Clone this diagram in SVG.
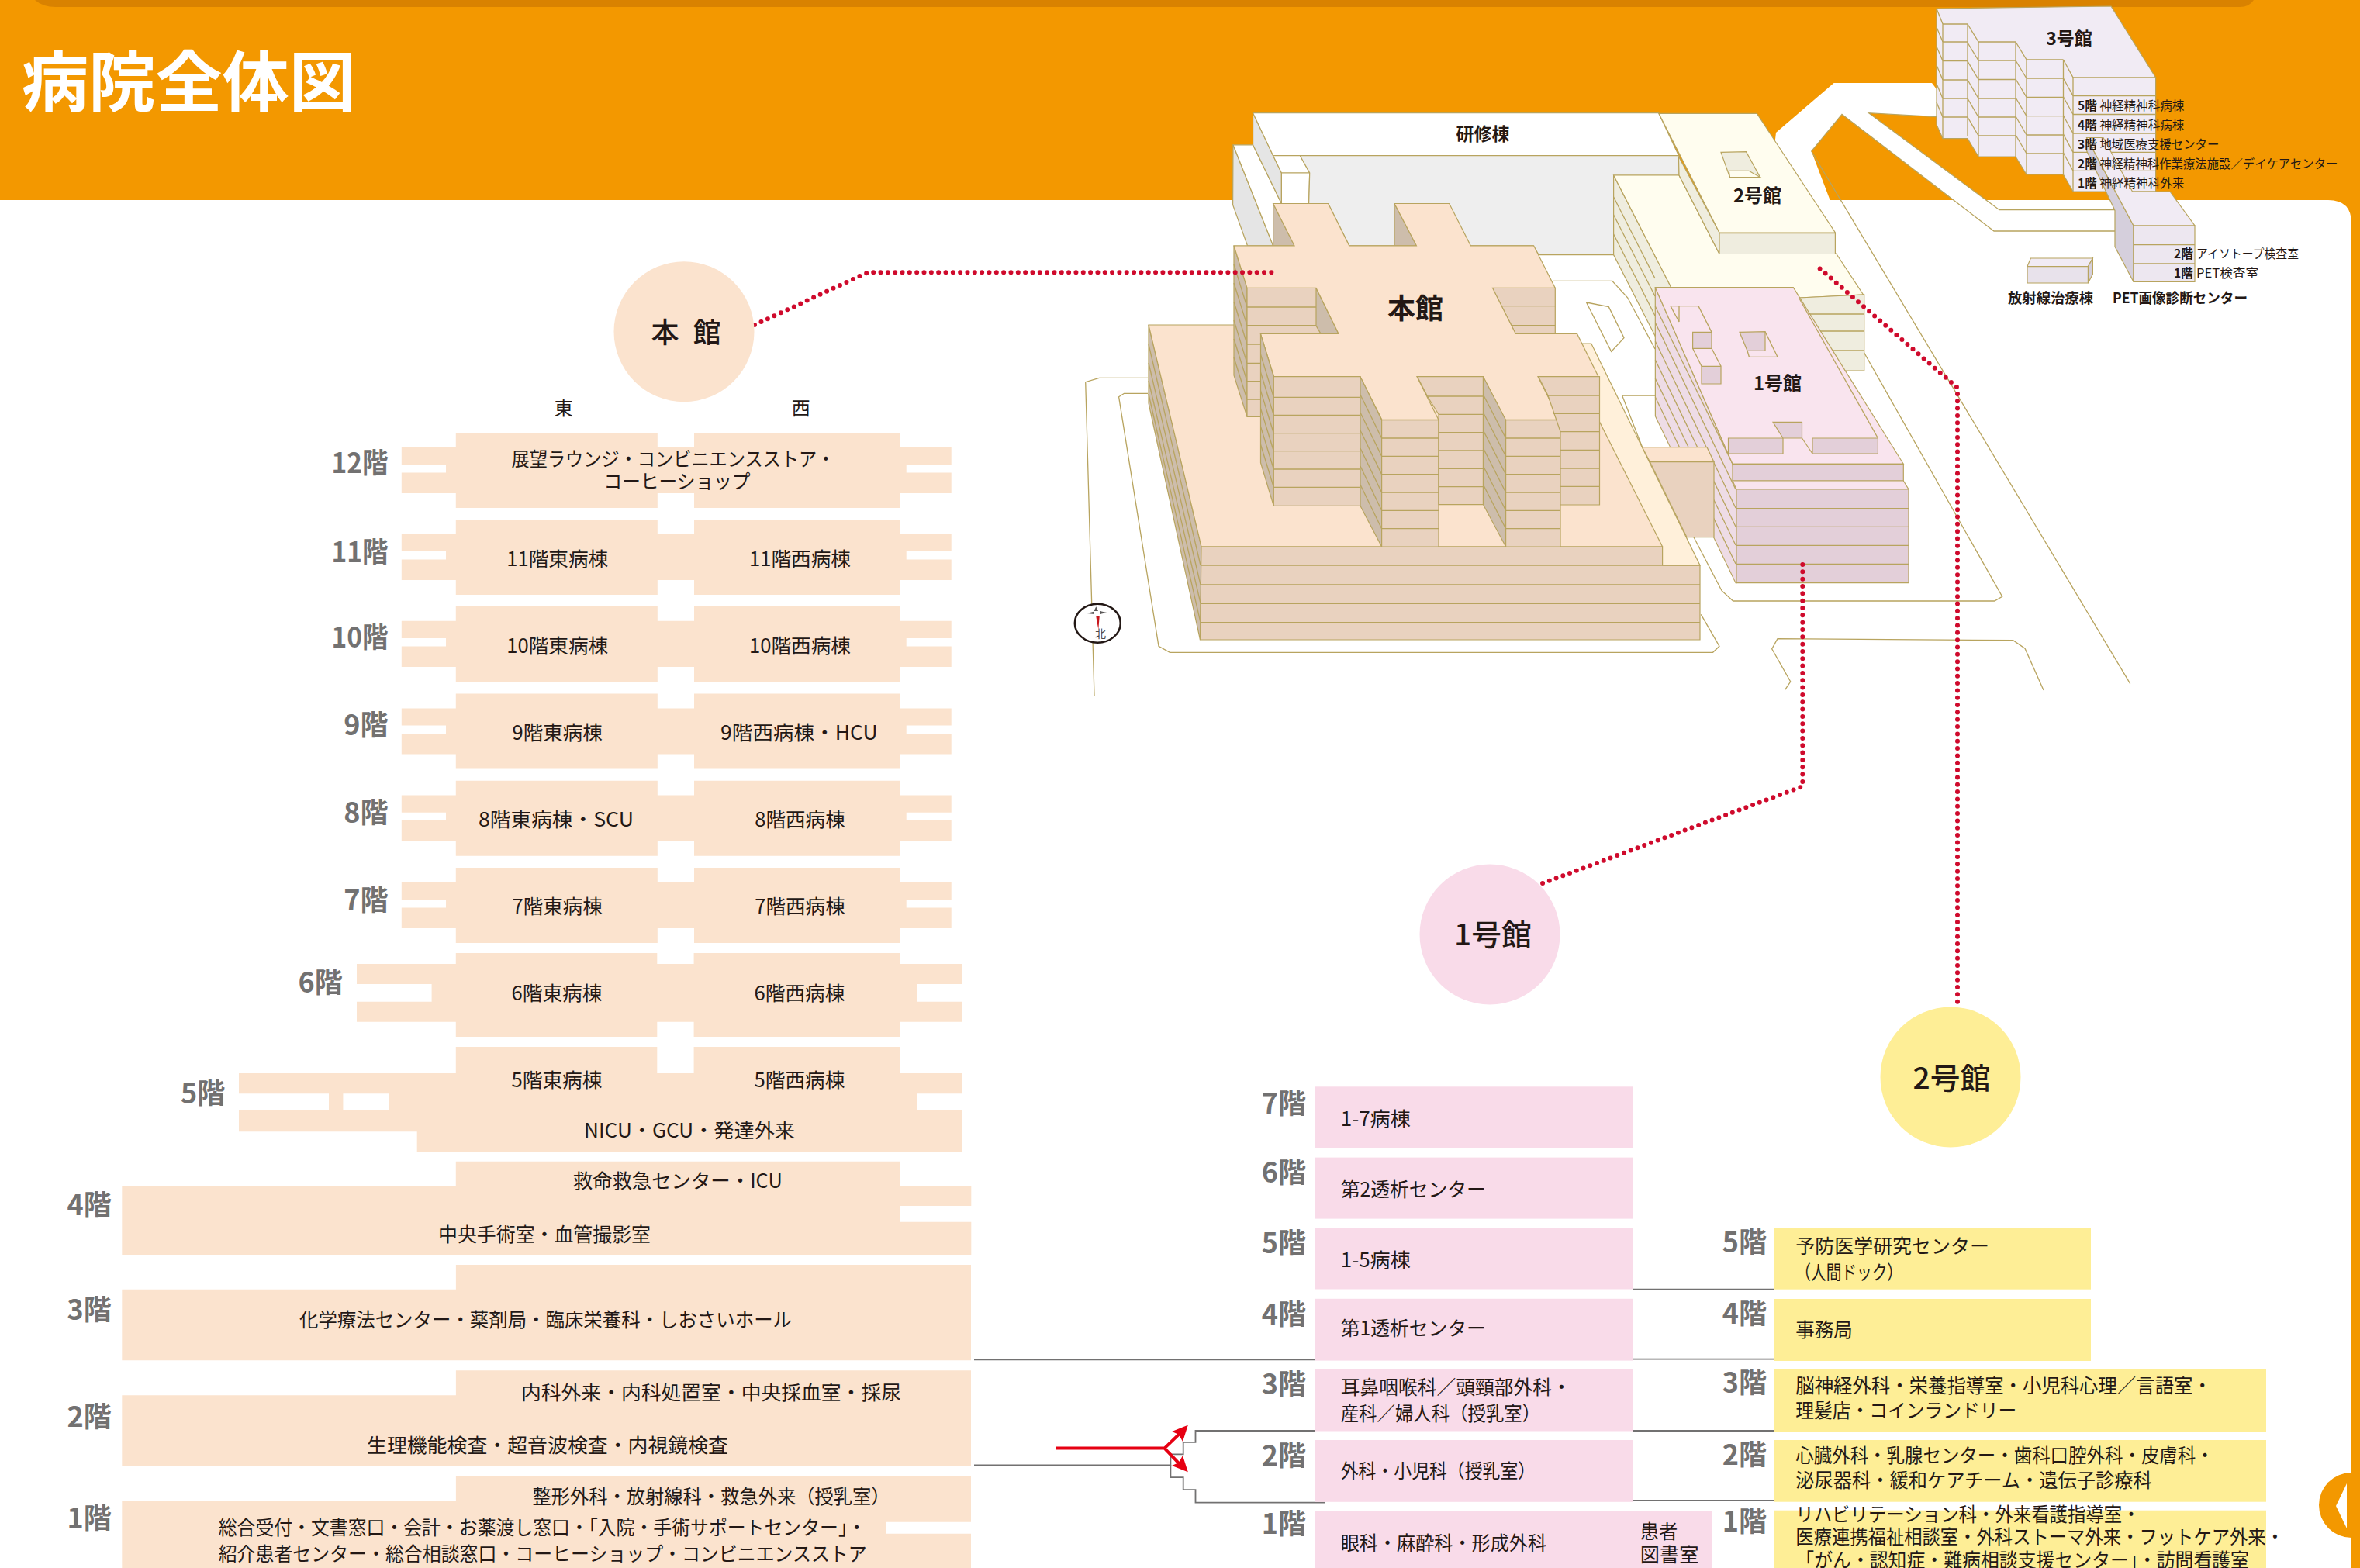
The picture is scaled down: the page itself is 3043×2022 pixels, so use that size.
<svg xmlns="http://www.w3.org/2000/svg" width="3043" height="2022" viewBox="0 0 3043 2022">
<style>
text{font-family:"Noto Sans CJK JP","Noto Sans",sans-serif;fill:#231815}
.t{font-size:25px}
.f{font-size:36px;font-weight:700;fill:#727171;text-anchor:end}
.m{text-anchor:middle}
.b{font-weight:700}
.k{font-size:15.5px}
.kb{font-size:15.5px;font-weight:700}
.c{font-size:38px;text-anchor:middle;font-weight:500}
.ln{fill:none;stroke:#B8A45F;stroke-width:1.3}
.dk{fill:#CDBDAB;stroke:#B8A45F;stroke-width:1.2}
.fc{fill:#E9D2BF;stroke:#B8A45F;stroke-width:1.2}
.tp{fill:#FBE3CE;stroke:#B8A45F;stroke-width:1.2}
.yt{fill:#FFFDEF;stroke:#B8A45F;stroke-width:1.2}
.yf{fill:#EFEDDF;stroke:#B8A45F;stroke-width:1.2}
.pt{fill:#F9E4EE;stroke:#B8A45F;stroke-width:1.2}
.pf{fill:#E3CFD9;stroke:#B8A45F;stroke-width:1.2}
.ps{fill:#EEDCE6;stroke:#B8A45F;stroke-width:1.2}
.vt{fill:#F1EBF4;stroke:#B8A45F;stroke-width:1.2}
.vd{fill:#D5CFDC;stroke:#B8A45F;stroke-width:1.2}
.w{fill:#fff;stroke:#B8A45F;stroke-width:1.2}
.gy{fill:#EEEEEE;stroke:#B8A45F;stroke-width:1.2}
.sg{fill:#E5E5E5;stroke:#B8A45F;stroke-width:1.2}
.pa{fill:#FBE3CE}
.pk{fill:#F9DBE9}
.ye{fill:#FEEE96}
.con{fill:none;stroke:#727171;stroke-width:1.8}
.dot{fill:none;stroke:#CF0A2C;stroke-width:6;stroke-linecap:round;stroke-dasharray:0 9.33}
</style>
<defs>
<path id="bk" d="M587.8,0H847.8V18.8H895V0H1161V18.8H1226.7V41H1168.7V51.4H1226.7V78H1161V97H895V78H847.8V97H587.8V78H517.8V51.4H575V41H517.8V18.8H587.8Z"/>
</defs>

<g id="background">
<rect width="3043" height="2022" fill="#F39800"/>
<path d="M45,0Q55,9 72,9H2888Q2900,9 2906,0Z" fill="#D98200"/>
<path d="M0,258H3002Q3032,258 3032,288V2022H0Z" fill="#fff"/>
<text x="28" y="137" font-size="85" font-weight="700" style="fill:#fff" textLength="431" lengthAdjust="spacingAndGlyphs">病院全体図</text>
<circle cx="3032" cy="1941" r="42" fill="#F39800"/>
<path d="M3012,1942L3026,1913V1971Z" fill="#fff"/>
</g>

<g id="site">
<path d="M2290,171L2364.6,107H2491L2497,115V150.7L2409.7,145.7L2578,270.7H2727V298H2571L2375,147.5L2335.7,195L2360,259H2280Z" fill="#fff"/>
<path class="ln" d="M2497,150.7L2409.7,145.7L2578,270.7H2727M2727,298H2571L2375,147.5L2335.7,195L2746.7,881.7"/>
<path class="ln" d="M2403.7,455L2581.7,769.3L2571.7,775H2234.7L2220,761.7L2184,692.7"/>
<path class="ln" d="M2301.7,889.3L2308.7,879L2284.7,836.7L2292,823.7L2595.7,825.7L2611,836.3L2635,890"/>
<path class="ln" d="M1480,487.3H1417.3L1399.7,492.7L1411,897"/>
<path class="ln" d="M1480,507.3H1449.5L1442.6,511.7L1494,833.3L1508.4,841.3H2208.6L2217,833.3L2193.3,792.3"/>
<path class="ln" d="M2134,510H2091.6L2117.6,576.7"/>
<path class="ln" d="M2002,362.4H2078.8L2098.6,383.8L2134,450"/>
<path class="ln" d="M2045.5,390L2074.3,395.7L2094,435.7L2077.6,453.4Z"/>
</g>

<g id="kenshu">
<path class="sg" d="M1590,186.8L1589.6,264.2L1608.5,316.8H1641.6Z"/>
<path class="w" d="M1590,186.8H1615.6L1652.4,262.5H1641.6V316.8Z"/>
<path class="sg" d="M1615.6,145.7V186.8L1652.4,262.5V223L1641.6,200.7Z"/>
<path class="w" d="M1615.6,145.7H2138.6L2164.6,200.7H1641.6Z"/>
<path class="w" d="M1641.6,200.7H1676.3L1688.7,223H1652.4Z"/>
<path class="w" d="M1652.4,223H1688.7L1687.6,262.5H1652.4Z"/>
<path class="gy" d="M1676.3,200.7H2165V226H2080.6V328.6H1984L1977,316.8H1739.7L1712.6,262.5H1687.6L1688.7,223Z"/>
<text class="b m" x="1912" y="181" font-size="23">研修棟</text>
</g>

<g id="bldg2">
<path class="yf" d="M2080.6,226L2155,371L2134,433L2080.6,328.6Z"/>
<path class="ln" d="M2080.6,254L2134,359M2080.6,277L2134,382M2080.6,302L2134,407"/>
<path class="yt" d="M2080.6,226H2165L2217,327.4L2367.6,327L2402.5,380L2319.5,384L2200,400L2155,371Z"/>
<path class="yf" d="M2319.5,384L2403.7,380V478H2372Z"/>
<path class="ln" d="M2330,405H2403.7M2342,427H2403.7M2355,452H2403.7"/>
<path class="yf" d="M2164.4,201.7L2217,300V327.4L2165,226Z"/>
<path class="yt" d="M2139,146.4H2265.4L2366.4,300H2217Z"/>
<path class="yf" d="M2217,300.6H2366.4V327.5H2217Z"/>
<path class="yf" d="M2219,196.4L2251.5,195.7L2269.6,228.6H2230.5Z"/>
<path class="yt" d="M2229.3,220.3H2255L2269.6,228.6H2230.5Z"/>
<text class="b m" x="2266" y="261" font-size="24">2号館</text>
</g>

<g id="honkan">
<path fill="#FFF0DA" stroke="#B8A45F" stroke-width="1.2" d="M2030,443H2051.8L2192,729H2143.6L1900,600Z"/>
<path class="dk" d="M1481,419L1549,705V729L1547.5,825L1481,520Z"/>
<path class="ln" d="M1481,444L1548,729M1481,468L1548,754M1481,491L1548,778M1481,508L1548,803"/>
<path class="tp" d="M1481,419H1620L2040,480L2062,543L2143.6,705H1549Z"/>
<path class="fc" d="M1549,705H2143.6V729H2192V825H1547.5Z"/>
<path class="ln" d="M1548,729H2192M1548,754H2192M1548,778.3H2192M1548,802.7H2192"/>

<path class="dk" d="M1591,316.8L1608,371.4V537.4L1591,484Z"/>
<path class="ln" d="M1591,341L1608,396M1591,365L1608,419.6M1591,389L1608,444M1591,413L1608,468.4M1591,437L1608,491.7M1591,461L1608,515"/>
<path class="fc" d="M1608,371.4H1697L1726,430.4H1640V537.4H1608Z"/>
<path class="ln" d="M1608,396H1709M1608,419.6H1721M1608,444H1640M1608,468.4H1640M1608,491.7H1640M1608,515H1640"/>
<path class="dk" d="M1697,371.4L1726,430.4H1703L1697,420Z"/>
<path class="dk" d="M1641.6,262.5L1669,316.8H1641.6Z"/>
<path class="dk" d="M1798,262.5L1826.4,316.8H1798Z"/>
<path class="fc" d="M1924.5,371.4H2005.3V430.4H1954.3Z"/>
<path class="ln" d="M1936.5,394.6H2005.3M1949,419.6H2005.3"/>
<path class="tp" d="M1591,316.8H1669L1641.6,262.5H1712.6L1739.7,316.8H1826.4L1798,262.5H1868.7L1896.3,316.8H1977.6L2005.3,371.4H1924.5L1954.3,430.4H2033.5L2061,485.7H1983L2011,541.4H1941L1912,485.7H1827L1855,541.4H1782L1753.8,485.7H1642.7L1625.3,430.4H1726L1697,371.4H1608Z"/>

<path class="dk" d="M1625.5,430.7L1642.3,485.7V652.3L1625.5,596.7Z"/>
<path class="ln" d="M1625.5,457L1642.3,512.3M1625.5,480L1642.3,535.3M1625.5,503.7L1642.3,558.7M1625.5,526.7L1642.3,581.7M1625.5,550L1642.3,605M1625.5,573.3L1642.3,628.3"/>
<path class="fc" d="M1642.3,485.7H1754V652.3H1642.3Z"/>
<path class="ln" d="M1642.3,512.3H1754M1642.3,535.3H1754M1642.3,558.7H1754M1642.3,581.7H1754M1642.3,605H1754M1642.3,628.3H1754"/>
<path class="dk" d="M1754,485.7L1781.6,541.7V705L1754,652.3Z"/>
<path class="ln" d="M1754,509L1781.6,565M1754,532L1781.6,588.3M1754,555L1781.6,611.7M1754,578L1781.6,635M1754,601L1781.6,658.3M1754,625L1781.6,681.7"/>
<path class="fc" d="M1781.6,541.7H1855V705H1781.6Z"/>
<path class="ln" d="M1781.6,565H1855M1781.6,588.3H1855M1781.6,611.7H1855M1781.6,635H1855M1781.6,658.3H1855M1781.6,681.7H1855"/>
<path class="fc" d="M1827.5,485.7H1912.5V650.7H1855V534.3L1840.5,511Z"/>
<path class="ln" d="M1840.5,511H1912.5M1855,534.3H1912.5M1855,557.7H1912.5M1855,581H1912.5M1855,604.3H1912.5M1855,627.7H1912.5"/>
<path class="dk" d="M1912.5,485.7L1941.6,541.7V705L1912.5,650.7Z"/>
<path class="ln" d="M1912.5,509L1941.6,565M1912.5,532L1941.6,588.3M1912.5,555L1941.6,611.7M1912.5,578L1941.6,635M1912.5,601L1941.6,658.3M1912.5,625L1941.6,681.7"/>
<path class="fc" d="M1941.6,541.7H2012V705H1941.6Z"/>
<path class="ln" d="M1941.6,565H2012M1941.6,588.3H2012M1941.6,611.7H2012M1941.6,635H2012M1941.6,658.3H2012M1941.6,681.7H2012"/>
<path class="fc" d="M1983.7,485.7H2062.5V651H2012V556.7L1996,510Z"/>
<path class="ln" d="M1996,510H2062.5M2003,533.3H2062.5M2012,556.7H2062.5M2012,580.3H2062.5M2012,604H2062.5M2012,627.3H2062.5"/>
<text class="b m" x="1825" y="411" font-size="36">本館</text>
</g>

<g id="bldg1">
<path class="ps" d="M2134.3,370.7L2234,598.3L2239,631V751.7H2238L2134.4,536.7Z"/>
<path class="ln" d="M2134.3,395L2234,598M2134.3,416L2238,631M2134.3,440L2238,655M2134.3,464L2238,679M2134.3,488L2238,703M2134.3,512L2238,727"/>
<path class="tp" d="M2117.6,576.7H2201L2210,595.7H2127.5Z"/>
<path class="fc" d="M2127.5,595.7H2210V692.7H2175Z"/>
<path class="pt" d="M2134.3,370.7H2312.3L2454.3,598.3H2234Z"/>
<path class="ln" d="M2319.5,384L2421.4,565"/>
<path class="pf" d="M2234,598.3H2454.3V620H2234Z"/>
<path class="pt" d="M2234,620H2454.3L2461,631H2239Z"/>
<path class="pf" d="M2239,631H2461V751.7H2239Z"/>
<path class="ln" d="M2239,655.7H2461M2239,679.3H2461M2239,703.3H2461M2239,727.3H2461"/>
<path class="pf" d="M2228.5,565H2299V585H2228.5Z"/>
<path class="pf" d="M2286,544.3H2323.5V565H2299Z"/>
<path class="ln" d="M2323.5,565L2337,585"/>
<path class="pf" d="M2337,565H2421.4V585H2337Z"/>
<path class="pf" d="M2243,428.3L2276,427.7V452.3H2253Z"/>
<path class="ln" d="M2276,427.7L2292,460.3H2255.4L2253,452.3"/>
<path class="pf" d="M2182.6,428.4H2207V449.3H2182.6Z"/>
<path class="pf" d="M2194,472.3H2219V495H2194Z"/>
<path class="ln" d="M2154,394.6H2190L2207,428.4M2165,394.6V415L2154,394.6M2182.6,449.3L2194,472.3M2207,449.3L2219,472.3"/>
<text class="b m" x="2292" y="503" font-size="24">1号館</text>
</g>

<g id="bldg3">
<path class="vt" d="M2497,11L2722,8L2779.6,100V247H2673L2660.5,225H2613L2599,202H2551L2537,178.6H2505L2497,160.7Z"/>
<path class="ln" d="M2497,11L2505,31V178.6M2537,31L2551,54V202M2599,54L2613,77V225M2660.5,77L2673,100V247M2537,31V175M2599,54V202M2660.5,77V225"/>
<path class="ln" d="M2505,31H2537M2551,54H2599M2613,77H2660.5M2673,100H2779.6"/>
<path class="ln" d="M2505,54H2537M2505,78.6H2537M2505,103H2537M2505,127H2537M2505,151H2537M2551,78H2599M2551,102.5H2599M2551,127H2599M2551,151H2599M2551,175H2599M2613,101H2660.5M2613,125.4H2660.5M2613,149.6H2660.5M2613,174H2660.5M2613,198H2660.5M2673,123.6H2779.6M2673,147.5H2779.6M2673,172H2779.6M2673,196.4H2779.6M2673,220.3H2779.6"/>
<path class="ln" d="M2497,35L2505,54M2497,60L2505,78.6M2497,84L2505,103M2497,108L2505,127M2497,132L2505,151M2537,55L2551,78M2537,79L2551,102.5M2537,103L2551,127M2537,127L2551,151M2537,151L2551,175M2599,78L2613,101M2599,102L2613,125.4M2599,126L2613,149.6M2599,150L2613,174M2599,174L2613,198M2660.5,101L2673,123.6M2660.5,125L2673,147.5M2660.5,149L2673,172M2660.5,173L2673,196.4M2660.5,197L2673,220.3"/>
<path class="vd" d="M2690.6,177.5V194.6L2727,271.4V318L2751,363.5V291Z"/>
<path class="vt" d="M2690.6,177.5H2712L2749.5,247H2798L2830,291H2751Z"/>
<path class="vt" d="M2751,291H2830V363.5H2751Z" style="fill:#EDE7F0"/>
<path class="ln" d="M2751,315.7H2830M2751,340H2830"/>
<text class="b m" x="2668" y="58" font-size="23">3号館</text>
<text class="kb" x="2679" y="142">5階</text><text class="k" x="2707.4" y="142" textLength="109" lengthAdjust="spacingAndGlyphs">神経精神科病棟</text>
<text class="kb" x="2679" y="167">4階</text><text class="k" x="2707.4" y="167" textLength="109" lengthAdjust="spacingAndGlyphs">神経精神科病棟</text>
<text class="kb" x="2679" y="192">3階</text><text class="k" x="2707.4" y="192" textLength="154" lengthAdjust="spacingAndGlyphs">地域医療支援センター</text>
<text class="kb" x="2679" y="217">2階</text><text class="k" x="2707.4" y="217" textLength="307" lengthAdjust="spacingAndGlyphs">神経精神科作業療法施設／デイケアセンター</text>
<text class="kb" x="2679" y="242">1階</text><text class="k" x="2707.4" y="242" textLength="109" lengthAdjust="spacingAndGlyphs">神経精神科外来</text>
<text class="kb" x="2803" y="333">2階</text><text class="k" x="2832" y="333" textLength="132" lengthAdjust="spacingAndGlyphs">アイソトープ検査室</text>
<text class="kb" x="2803" y="358">1階</text><text class="k" x="2832" y="358" textLength="80" lengthAdjust="spacingAndGlyphs">PET検査室</text>
<text class="b m" x="2644" y="390.5" font-size="18" textLength="110" lengthAdjust="spacingAndGlyphs">放射線治療棟</text>
<text class="b" x="2724" y="390.5" font-size="18" textLength="174" lengthAdjust="spacingAndGlyphs">PET画像診断センター</text>
</g>

<g id="radiation">
<path class="vt" d="M2618.4,333H2698.4L2692.4,343.6H2614Z"/>
<path class="vd" d="M2698.4,333V353.6L2692.4,365V343.6Z"/>
<path class="vt" d="M2614,343.6H2692.4V365H2614Z" style="fill:#E8E2EB"/>
</g>

<g id="compass">
<ellipse cx="1415.3" cy="803.7" rx="29.5" ry="25" fill="#fff" stroke="#231815" stroke-width="2.5"/>
<path d="M1413.3,795H1417.7L1416.3,811.7Z" fill="#C8161D"/>
<path d="M1413.3,782.3L1416,788H1410.5ZM1401.7,791L1411,788.5V792ZM1427.3,790L1418,788V792Z" fill="#595757"/>
<text class="m" x="1419" y="822" font-size="14" style="fill:#4c4948">北</text>
</g>

<g id="connectors">
<path class="con" d="M1256,1753.4H1696"/>
<path class="con" d="M1256,1889.3H1509.4V1875.4H1525.7V1859.8H1541.5V1845H1696"/>
<path class="con" d="M1509.4,1889.3V1905.2H1525.7V1921.2H1541.5V1937.6H1709"/>
<path class="con" d="M2105,1662.7H2287M2105,1752.7H2287M2105,1845H2287M2105,1935H2287"/>
<path fill="none" stroke="#E60012" stroke-width="4" d="M1362,1867.6H1501.5L1525,1845M1501.5,1867.6L1525,1892"/>
<path fill="#E60012" d="M1531.8,1837.7L1525,1859L1520,1850L1511,1846Z"/>
<path fill="#E60012" d="M1531.8,1898.3L1525,1877L1520,1886L1511,1890Z"/>
<path class="dot" d="M973,419L1115,353Q1120,351.3 1124,351.3H1640"/>
<path class="dot" d="M2346.6,346.4L2524,500V1296"/>
<path class="dot" d="M2324.3,728V1014L1989,1139"/>
</g>

<g id="n-honkan"><circle class="pa" cx="882" cy="427.7" r="90.5"/><text class="m" x="884.5" y="442" font-size="36" font-weight="500" word-spacing="10">本 館</text></g>
<g id="n-1gokan"><circle class="pk" cx="1921" cy="1205" r="90.5"/><text class="c" x="1925" y="1219" textLength="100" lengthAdjust="spacingAndGlyphs">1号館</text></g>
<g id="n-2gokan"><circle class="ye" cx="2515" cy="1389" r="90.5"/><text class="c" x="2516.5" y="1404" textLength="100" lengthAdjust="spacingAndGlyphs">2号館</text></g>

<g id="east-west">
<text class="m" x="726.7" y="535" font-size="24">東</text>
<text class="m" x="1032.7" y="535" font-size="24">西</text>
</g>

<g id="f12"><use href="#bk" y="558" class="pa"/><text class="f" x="500.5" y="610" textLength="73" lengthAdjust="spacingAndGlyphs">12階</text>
<text class="t m" x="868" y="601" textLength="417" lengthAdjust="spacingAndGlyphs">展望ラウンジ・コンビニエンスストア・</text>
<text class="t m" x="873" y="630" textLength="189" lengthAdjust="spacingAndGlyphs">コーヒーショップ</text></g>
<g id="f11"><use href="#bk" y="670" class="pa"/><text class="f" x="500.5" y="725" textLength="73" lengthAdjust="spacingAndGlyphs">11階</text>
<text class="t m" x="718.7" y="730" textLength="131" lengthAdjust="spacingAndGlyphs">11階東病棟</text>
<text class="t m" x="1031.5" y="730" textLength="131" lengthAdjust="spacingAndGlyphs">11階西病棟</text></g>
<g id="f10"><use href="#bk" y="782" class="pa"/><text class="f" x="500.5" y="835" textLength="73" lengthAdjust="spacingAndGlyphs">10階</text>
<text class="t m" x="718.7" y="842" textLength="131" lengthAdjust="spacingAndGlyphs">10階東病棟</text>
<text class="t m" x="1031.5" y="842" textLength="131" lengthAdjust="spacingAndGlyphs">10階西病棟</text></g>
<g id="f9"><use href="#bk" y="894.6" class="pa"/><text class="f" x="500.5" y="948">9階</text>
<text class="t m" x="718.7" y="953.5" textLength="116.5" lengthAdjust="spacingAndGlyphs">9階東病棟</text>
<text class="t m" x="1030.4" y="953.5" textLength="202.6" lengthAdjust="spacingAndGlyphs">9階西病棟・HCU</text></g>
<g id="f8"><use href="#bk" y="1006.7" class="pa"/><text class="f" x="500.5" y="1061">8階</text>
<text class="t m" x="717" y="1065.5" textLength="200" lengthAdjust="spacingAndGlyphs">8階東病棟・SCU</text>
<text class="t m" x="1031.5" y="1065.5" textLength="116.5" lengthAdjust="spacingAndGlyphs">8階西病棟</text></g>
<g id="f7"><use href="#bk" y="1119" class="pa"/><text class="f" x="500.5" y="1173.5">7階</text>
<text class="t m" x="718.7" y="1177.5" textLength="116.5" lengthAdjust="spacingAndGlyphs">7階東病棟</text>
<text class="t m" x="1031.5" y="1177.5" textLength="116.5" lengthAdjust="spacingAndGlyphs">7階西病棟</text></g>
<g id="f6"><path class="pa" d="M587.8,1229H847.3V1243H894.6V1229H1161V1243H1240.8V1269H1182V1291.7H1240.8V1317.7H1161V1337H894.6V1317.7H847.3V1337H587.8V1317.7H460V1291.7H556.6V1269H460V1243H587.8Z"/>
<text class="f" x="441.7" y="1280">6階</text>
<text class="t m" x="718" y="1289.5" textLength="117" lengthAdjust="spacingAndGlyphs">6階東病棟</text>
<text class="t m" x="1031" y="1289.5" textLength="117" lengthAdjust="spacingAndGlyphs">6階西病棟</text></g>
<g id="f5"><path class="pa" d="M587.8,1350H847.3V1384H894.6V1350H1161V1384H1240.8V1410.3H1182V1431H1240.8V1485.3H537.7V1459.3H308V1431.7H501V1410.3H308V1384H587.8Z"/>
<rect class="pa" x="424" y="1410" width="18.4" height="22"/>
<text class="f" x="290.3" y="1423">5階</text>
<text class="t m" x="718" y="1402" textLength="117" lengthAdjust="spacingAndGlyphs">5階東病棟</text>
<text class="t m" x="1031" y="1402" textLength="117" lengthAdjust="spacingAndGlyphs">5階西病棟</text>
<text class="t m" x="889" y="1466.5" textLength="272" lengthAdjust="spacingAndGlyphs">NICU・GCU・発達外来</text></g>
<g id="f4"><path class="pa" d="M587.8,1497.7H1161V1529H1252.3V1555H1161V1575.7H1252.3V1618.3H157.3V1529H587.8Z"/>
<text class="f" x="143.7" y="1566.5">4階</text>
<text class="t m" x="873.7" y="1532" textLength="270" lengthAdjust="spacingAndGlyphs">救命救急センター・ICU</text>
<text class="t m" x="702" y="1601" textLength="274" lengthAdjust="spacingAndGlyphs">中央手術室・血管撮影室</text></g>
<g id="f3"><path class="pa" d="M587.9,1631H1252V1754.3H157.3V1662.7H587.9Z"/>
<text class="f" x="143.7" y="1702">3階</text>
<text class="t m" x="703.5" y="1711" textLength="635" lengthAdjust="spacingAndGlyphs">化学療法センター・薬剤局・臨床栄養科・しおさいホール</text></g>
<g id="f2"><path class="pa" d="M587.9,1767.3H1252V1891H157.3V1799.3H587.9Z"/>
<text class="f" x="143.7" y="1840">2階</text>
<text class="t m" x="917" y="1804.5" textLength="490" lengthAdjust="spacingAndGlyphs">内科外来・内科処置室・中央採血室・採尿</text>
<text class="t m" x="706" y="1872.5" textLength="466" lengthAdjust="spacingAndGlyphs">生理機能検査・超音波検査・内視鏡検査</text></g>
<g id="f1"><path class="pa" d="M587.9,1904H1252V1962.7H1142V1977.7H1252V2022H157.3V1936H587.9Z"/>
<text class="f" x="143.7" y="1971">1階</text>
<text class="t m" x="917" y="1938.5" textLength="461" lengthAdjust="spacingAndGlyphs">整形外科・放射線科・救急外来（授乳室）</text>
<text class="t" x="281.7" y="1979" textLength="835" lengthAdjust="spacingAndGlyphs">総合受付・文書窓口・会計・お薬渡し窓口・「入院・手術サポートセンター」・</text>
<text class="t" x="281.7" y="2013" textLength="836" lengthAdjust="spacingAndGlyphs">紹介患者センター・総合相談窓口・コーヒーショップ・コンビニエンスストア</text></g>

<g id="b1-7"><rect class="pk" x="1696" y="1401.3" width="409" height="79.7"/><text class="f" x="1684" y="1436">7階</text><text class="t" x="1728.7" y="1452" textLength="90" lengthAdjust="spacingAndGlyphs">1-7病棟</text></g>
<g id="b1-6"><rect class="pk" x="1696" y="1492.6" width="409" height="79"/><text class="f" x="1684" y="1525">6階</text><text class="t" x="1728.7" y="1543" textLength="187" lengthAdjust="spacingAndGlyphs">第2透析センター</text></g>
<g id="b1-5"><rect class="pk" x="1696" y="1583.5" width="409" height="79"/><text class="f" x="1684" y="1616">5階</text><text class="t" x="1728.7" y="1634" textLength="90" lengthAdjust="spacingAndGlyphs">1-5病棟</text></g>
<g id="b1-4"><rect class="pk" x="1696" y="1674.8" width="409" height="79.8"/><text class="f" x="1684" y="1708">4階</text><text class="t" x="1728.7" y="1722" textLength="187" lengthAdjust="spacingAndGlyphs">第1透析センター</text></g>
<g id="b1-3"><rect class="pk" x="1696" y="1766" width="409" height="79.5"/><text class="f" x="1684" y="1797.5">3階</text><text class="t" x="1728.7" y="1798" textLength="297" lengthAdjust="spacingAndGlyphs">耳鼻咽喉科／頭頸部外科・</text><text class="t" x="1728.7" y="1831.5" textLength="257.5" lengthAdjust="spacingAndGlyphs">産科／婦人科（授乳室）</text></g>
<g id="b1-2"><rect class="pk" x="1696" y="1857" width="409" height="79.8"/><text class="f" x="1684" y="1889.5">2階</text><text class="t" x="1728.7" y="1906" textLength="251.5" lengthAdjust="spacingAndGlyphs">外科・小児科（授乳室）</text></g>
<g id="b1-1"><rect class="pk" x="1696" y="1948" width="511" height="74"/><text class="f" x="1684" y="1977.5">1階</text><text class="t" x="1728.7" y="1998.5" textLength="265.4" lengthAdjust="spacingAndGlyphs">眼科・麻酔科・形成外科</text><text class="t" x="2114.8" y="1984" textLength="48.5" lengthAdjust="spacingAndGlyphs">患者</text><text class="t" x="2114.8" y="2013.5" textLength="75.7" lengthAdjust="spacingAndGlyphs">図書室</text></g>

<g id="b2-5"><rect class="ye" x="2287" y="1583" width="409" height="79.7"/><text class="f" x="2278" y="1614.5">5階</text><text class="t" x="2315.3" y="1616" textLength="249.6" lengthAdjust="spacingAndGlyphs">予防医学研究センター</text><text class="t" x="2315.3" y="1650" textLength="137.7" lengthAdjust="spacingAndGlyphs">（人間ドック）</text></g>
<g id="b2-4"><rect class="ye" x="2287" y="1675" width="409" height="80"/><text class="f" x="2278" y="1707">4階</text><text class="t" x="2315.3" y="1724" textLength="73.4" lengthAdjust="spacingAndGlyphs">事務局</text></g>
<g id="b2-3"><rect class="ye" x="2287" y="1766" width="635" height="80"/><text class="f" x="2278" y="1795.5">3階</text><text class="t" x="2315.3" y="1796" textLength="536.5" lengthAdjust="spacingAndGlyphs">脳神経外科・栄養指導室・小児科心理／言語室・</text><text class="t" x="2315.3" y="1828" textLength="285" lengthAdjust="spacingAndGlyphs">理髪店・コインランドリー</text></g>
<g id="b2-2"><rect class="ye" x="2287" y="1857" width="635" height="79.7"/><text class="f" x="2278" y="1889">2階</text><text class="t" x="2315.3" y="1886" textLength="539.4" lengthAdjust="spacingAndGlyphs">心臓外科・乳腺センター・歯科口腔外科・皮膚科・</text><text class="t" x="2315.3" y="1918" textLength="459.5" lengthAdjust="spacingAndGlyphs">泌尿器科・緩和ケアチーム・遺伝子診療科</text></g>
<g id="b2-1"><rect class="ye" x="2287" y="1947.7" width="635" height="74.3"/><text class="f" x="2278" y="1975">1階</text><text class="t" x="2315.3" y="1961.5" textLength="444.4" lengthAdjust="spacingAndGlyphs">リハビリテーション科・外来看護指導室・</text><text class="t" x="2315.3" y="1991" textLength="629.7" lengthAdjust="spacingAndGlyphs">医療連携福祉相談室・外科ストーマ外来・フットケア外来・</text><text class="t" x="2315.3" y="2021" textLength="584.7" lengthAdjust="spacingAndGlyphs">「がん・認知症・難病相談支援センター」・訪問看護室</text></g>
</svg>
